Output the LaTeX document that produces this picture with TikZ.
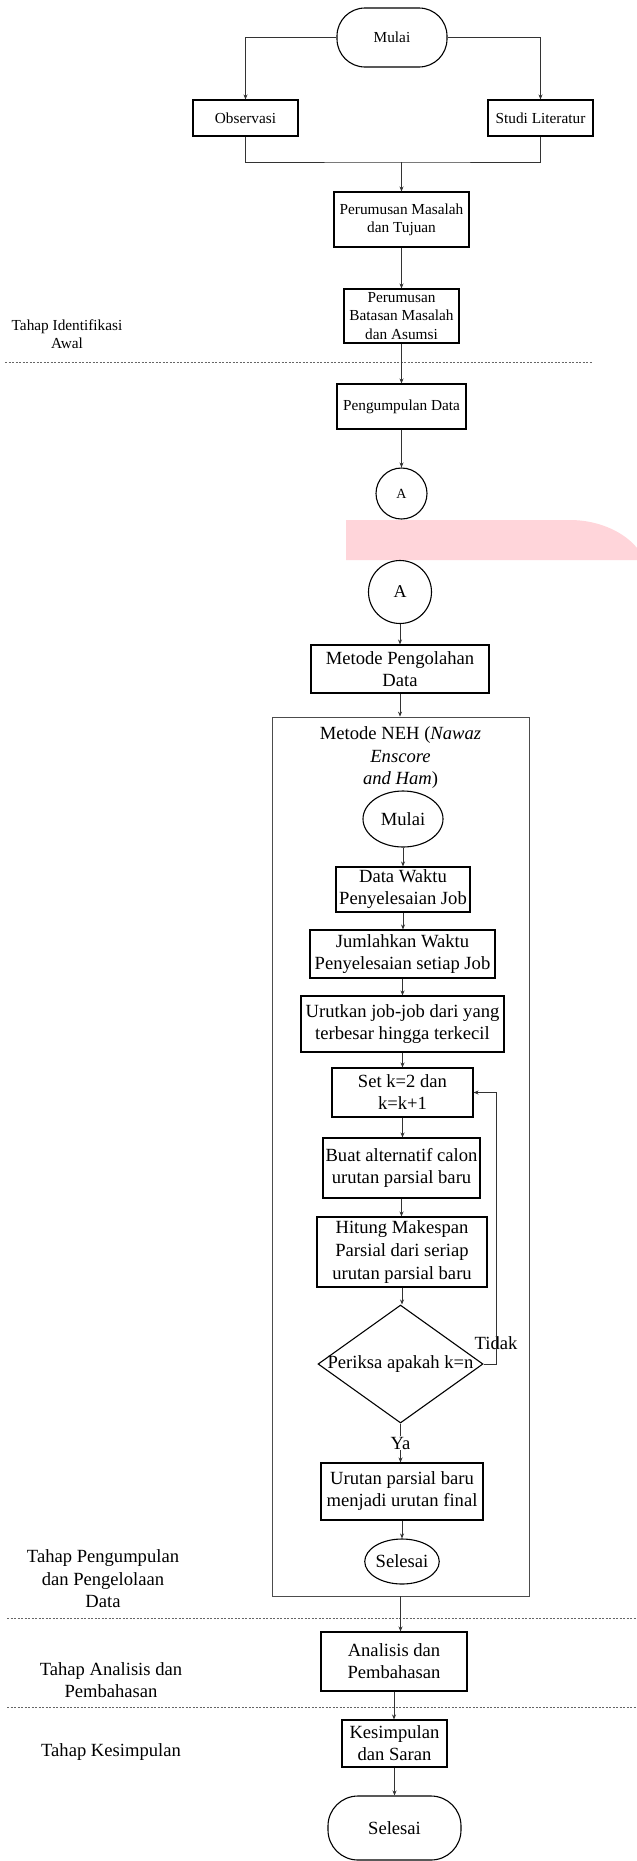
\documentclass[tikz,border=0pt]{standalone}
\usepackage{fontspec}
\setmainfont{Liberation Serif}
\usetikzlibrary{arrows.meta,shapes.geometric}
\definecolor{pinkband}{RGB}{255,213,218}
\begin{document}
\begin{tikzpicture}[x=1bp,y=-1bp,
  small/.style={font=\fontsize{15.3bp}{18.3bp}\selectfont},
  big/.style={font=\fontsize{18.6bp}{22bp}\selectfont},
  box/.style={draw=black, line width=1.1bp, rectangle, inner sep=0pt, align=center},
  oval/.style={draw=black, line width=1.1bp, ellipse, inner sep=0pt, align=center},
  conn/.style={draw=black!80, line width=0.7bp},
  arr/.style={conn, -{Stealth[length=5bp,width=4bp]}},
  sepline/.style={draw=black!60, line width=0.6bp, dash pattern=on 2bp off 1.5bp},
  lbl/.style={align=center, inner sep=0pt}]
\useasboundingbox (0,0) rectangle (637,1861);
\fill[white] (0,0) rectangle (637,1861);

% pink band
\fill[pinkband] (346,520) -- (570,520) .. controls (600,520) and (625,533) .. (637,548) -- (637,560) -- (346,560) -- cycle;

% separators
\draw[sepline] (5,362.5) -- (592,362.5);
\draw[sepline] (7,1618) -- (637,1618);
\draw[sepline] (7,1707) -- (637,1707);

% left labels
\node[lbl, small] (l1) at (67,334) {Tahap Identifikasi\\Awal};
\node[lbl, font=\fontsize{18.6bp}{22.5bp}\selectfont] (l2) at (103,1579) {Tahap Pengumpulan\\dan Pengelolaan\\Data};
\node[lbl, font=\fontsize{18.6bp}{22.5bp}\selectfont] (l3) at (111,1680) {Tahap Analisis dan\\Pembahasan};
\node[lbl, big] (l4) at (111,1752) {Tahap Kesimpulan};

% top section
\node[box, small, rounded corners=28bp, minimum width=110bp, minimum height=59bp] (start) at (392,37.5) {Mulai};
\node[box, small, minimum width=105bp, minimum height=36bp] (obs) at (245.5,118) {Observasi};
\node[box, small, minimum width=105bp, minimum height=36bp] (lit) at (540.5,118) {Studi Literatur};
\node[box, small, minimum width=135bp, minimum height=55bp] (pm) at (401.5,219.5) {Perumusan Masalah\\dan Tujuan};
\node[box, small, minimum width=115bp, minimum height=54bp] (bm) at (401.5,316) {Perumusan\\Batasan Masalah\\dan Asumsi};
\node[box, small, minimum width=129bp, minimum height=45bp] (pd) at (401.5,406.5) {Pengumpulan Data};
\node[draw=black, line width=1.1bp, circle, inner sep=0pt, minimum size=51bp, font=\fontsize{14bp}{16bp}\selectfont] (a1) at (401.5,493.5) {A};

% lower section
\node[draw=black, line width=1.1bp, circle, inner sep=0pt, minimum size=63bp, font=\fontsize{18bp}{20bp}\selectfont] (a2) at (400,592) {A};
\node[box, big, minimum width=178bp, minimum height=48bp] (mpd) at (400,669) {Metode Pengolahan\\Data};
\node[draw=black!70, line width=0.8bp, rectangle, inner sep=0pt, minimum width=257bp, minimum height=879bp] (neh) at (400.5,1156.5) {};
\node[lbl, font=\fontsize{18.6bp}{22.5bp}\selectfont] (nehtitle) at (400.5,758) {Metode NEH (\textit{Nawaz}\\\textit{Enscore}\\\textit{and Ham})};
\node[oval, big, minimum width=80bp, minimum height=56bp] (m2) at (403,819) {Mulai};
\node[box, big, minimum width=134bp, minimum height=45bp] (dw) at (403,889.5) {Data Waktu\\Penyelesaian Job};
\node[box, big, minimum width=185bp, minimum height=48bp] (jw) at (402.5,954) {Jumlahkan Waktu\\Penyelesaian setiap Job};
\node[box, big, minimum width=203bp, minimum height=56bp] (uj) at (402.5,1024) {Urutkan job-job dari yang\\terbesar hingga terkecil};
\node[box, big, minimum width=141bp, minimum height=49bp] (sk) at (402.5,1092.5) {Set k=2 dan\\k=k+1};
\node[box, big, minimum width=157bp, minimum height=60bp] (ba) at (401.5,1168) {Buat alternatif calon\\urutan parsial baru};
\node[box, big, minimum width=170bp, minimum height=70bp, font=\fontsize{18.6bp}{23bp}\selectfont] (hm) at (402,1252) {Hitung Makespan\\Parsial dari seriap\\urutan parsial baru};
\node[draw=black, line width=1.1bp, diamond, inner sep=0pt, minimum width=165bp, minimum height=118bp] (dia) at (400.5,1364) {};
\node[lbl, big] (diat) at (dia.center) {Periksa apakah k=n};
\node[box, big, minimum width=162bp, minimum height=57bp] (up) at (402,1491.5) {Urutan parsial baru\\menjadi urutan final};
\node[oval, big, minimum width=74bp, minimum height=45bp] (s2) at (402,1561.5) {Selesai};
\node[lbl, big] (tidak) at (496,1343) {Tidak};
\node[box, big, minimum width=146bp, minimum height=59bp] (an) at (394,1661.5) {Analisis dan\\Pembahasan};
\node[box, big, minimum width=105bp, minimum height=47bp] (ks) at (394.5,1743.5) {Kesimpulan\\dan Saran};
\node[box, big, rounded corners=30bp, minimum width=133bp, minimum height=64bp] (fin) at (394.5,1828) {Selesai};

% connectors top
\draw[arr] (start.west) -| (obs.north);
\draw[arr] (start.east) -| (lit.north);
\coordinate (merge) at (401.5,162);
\draw[conn] (obs.south) |- (merge) -| (lit.south);
\draw[arr] (merge) -- (pm.north);
\draw[arr] (pm.south) -- (pm.south |- bm.north);
\draw[arr] (bm.south) -- (bm.south |- pd.north);
\draw[arr] (pd.south) -- (pd.south |- a1.north);

% connectors lower
\draw[arr] (a2.south) -- (a2.south |- mpd.north);
\draw[arr] (mpd.south) -- (mpd.south |- neh.north);
\draw[arr] (m2.south) -- (m2.south |- dw.north);
\draw[arr] (dw.south) -- (dw.south |- jw.north);
\draw[arr] (jw.south) -- (jw.south |- uj.north);
\draw[arr] (uj.south) -- (uj.south |- sk.north);
\draw[arr] (sk.south) -- (sk.south |- ba.north);
\draw[arr] (ba.south) -- (ba.south |- hm.north);
\draw[arr] (hm.south) -- (hm.south |- dia.north);
\draw[arr] (dia.south) -- node[fill=white, big, inner sep=1bp] (ya) {Ya} (dia.south |- up.north);
\draw[arr] (up.south) -- (up.south |- s2.north);
\coordinate (fb) at (496,1364);
\draw[arr] (dia.east) -- (fb) |- (sk.east);
\draw[arr] (neh.south) -- (neh.south |- an.north);
\draw[arr] (an.south) -- (an.south |- ks.north);
\draw[arr] (ks.south) -- (ks.south |- fin.north);
\end{tikzpicture}
\end{document}
